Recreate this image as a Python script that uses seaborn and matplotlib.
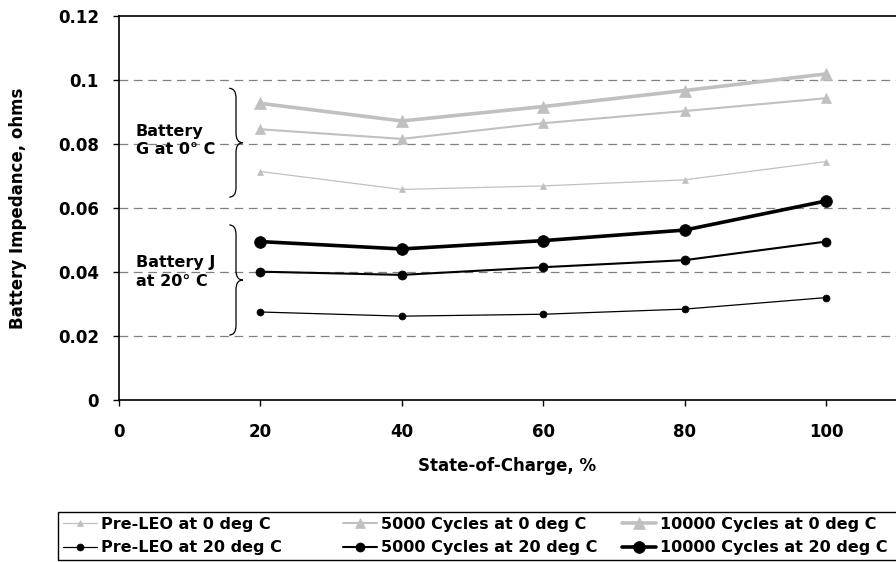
import numpy as np
import pandas as pd
import matplotlib
matplotlib.use("Agg")
import matplotlib.pyplot as plt
import seaborn as sns
from matplotlib.path import Path
from matplotlib.patches import PathPatch, Rectangle

soc = [20, 40, 60, 80, 100]

pre_leo_0 = [0.0714, 0.0658, 0.0669, 0.0688, 0.0745]
cyc5000_0 = [0.0846, 0.0816, 0.0865, 0.0903, 0.0943]
cyc10000_0 = [0.0927, 0.0872, 0.0917, 0.0967, 0.1019]
pre_leo_20 = [0.0275, 0.0262, 0.0268, 0.0284, 0.0320]
cyc5000_20 = [0.0401, 0.0391, 0.0415, 0.0437, 0.0495]
cyc10000_20 = [0.0495, 0.0472, 0.0498, 0.0531, 0.0622]

labels = ["Pre-LEO at 0 deg C", "5000 Cycles at 0 deg C", "10000 Cycles at 0 deg C",
          "Pre-LEO at 20 deg C", "5000 Cycles at 20 deg C", "10000 Cycles at 20 deg C"]

sns.set_style("white")
plt.rcParams['font.family'] = ['DejaVu Sans']
plt.rcParams['font.weight'] = 'bold'
for key in ['text.color', 'axes.labelcolor', 'xtick.color', 'ytick.color']:
    plt.rcParams[key] = 'black'

W, H = 896, 562
fig = plt.figure(figsize=(W / 100, H / 100), dpi=100)
ax = fig.add_axes([119 / W, 1 - 400 / H, (W - 119) / W, 384 / H])

gray = "#c0c0c0"
styles = [
    (pre_leo_0, '^', gray, 0.9, 5),
    (cyc5000_0, '^', gray, 1.5, 7),
    (cyc10000_0, '^', gray, 2.6, 8.5),
    (pre_leo_20, 'o', 'black', 0.9, 5),
    (cyc5000_20, 'o', 'black', 1.5, 6.5),
    (cyc10000_20, 'o', 'black', 2.6, 8.5),
]
for (vals, m, c, lw, ms), lab in zip(styles, labels):
    sns.lineplot(x=soc, y=vals, marker=m, color=c, linewidth=lw, markersize=ms,
                 markeredgecolor=c, markeredgewidth=0.5, label=lab, ax=ax, zorder=3)

ax.set_xlim(0, (W - 119) / 7.07)
ax.set_ylim(0, 0.12)
ax.set_xticks([0, 20, 40, 60, 80, 100])
ax.set_yticks([0, 0.02, 0.04, 0.06, 0.08, 0.1, 0.12])
ax.set_yticklabels(["0", "0.02", "0.04", "0.06", "0.08", "0.1", "0.12"])
for y in [0.02, 0.04, 0.06, 0.08, 0.1]:
    ax.axhline(y, color="#808080", linestyle=(0, (7, 4.5)), linewidth=0.9, zorder=0)
ax.tick_params(axis='both', direction='out', length=4.5, width=1, color='black',
               labelcolor='black', labelsize=12, bottom=True, left=True)
ax.tick_params(axis='y', pad=10)
ax.tick_params(axis='x', pad=12)
for s in ['left', 'bottom', 'top']:
    ax.spines[s].set_color('black')
    ax.spines[s].set_linewidth(1.2)
ax.spines['right'].set_visible(False)
ax.set_xlabel("State-of-Charge, %", fontsize=12, fontweight='bold', color='black')
ax.set_ylabel("Battery Impedance, ohms", fontsize=12, fontweight='bold', color='black')
ax.xaxis.set_label_coords(0.5, -(457 - 400) / 384)
ax.yaxis.set_label_coords(-(119 - 27) / (W - 119), 0.5)


def brace(ax, x, y0, y1, w=1.9):
    # curly brace opening to the left with its point on the right
    mid = (y0 + y1) / 2
    h = 0.003
    xm = x + w * 0.5
    verts = [(x, y1), (xm, y1), (xm, y1 - h),
             (xm, mid + h),
             (xm, mid), (x + w, mid),
             (xm, mid), (xm, mid - h),
             (xm, y0 + h),
             (xm, y0), (x, y0)]
    codes = [Path.MOVETO, Path.CURVE3, Path.CURVE3,
             Path.LINETO,
             Path.CURVE3, Path.CURVE3,
             Path.CURVE3, Path.CURVE3,
             Path.LINETO,
             Path.CURVE3, Path.CURVE3]
    ax.add_patch(PathPatch(Path(verts, codes), fill=False, edgecolor='black',
                           linewidth=0.9))


brace(ax, 15.6, 0.0634, 0.0974)
brace(ax, 15.6, 0.0203, 0.0547)
ax.text(2.4, 0.0811, "Battery\nG at 0\u00b0 C", fontsize=11.5, fontweight='bold',
        va='center', ha='left', linespacing=1.3, color='black')
ax.text(2.4, 0.0400, "Battery J\nat 20\u00b0 C", fontsize=11.5, fontweight='bold',
        va='center', ha='left', linespacing=1.3, color='black')

# legend: three equal-width columns inside one box
h, l = ax.get_legend_handles_labels()
ax.get_legend().remove()
col_x = [63, 343, 622]
for k in range(3):
    leg = fig.legend([h[k], h[k + 3]], [l[k], l[k + 3]], loc='upper left',
                     bbox_to_anchor=(col_x[k] / W, 1 - 516.5 / H),
                     fontsize=11.5, frameon=False, handlelength=2.1,
                     handletextpad=0.3, borderpad=0, borderaxespad=0,
                     labelspacing=0.55, labelcolor='black')
fig.patches.append(Rectangle((58 / W, 1 - 560 / H), 850 / W, 48 / H,
                             transform=fig.transFigure, fill=False,
                             edgecolor='black', linewidth=1.0))

fig.savefig("out.png", dpi=100)
